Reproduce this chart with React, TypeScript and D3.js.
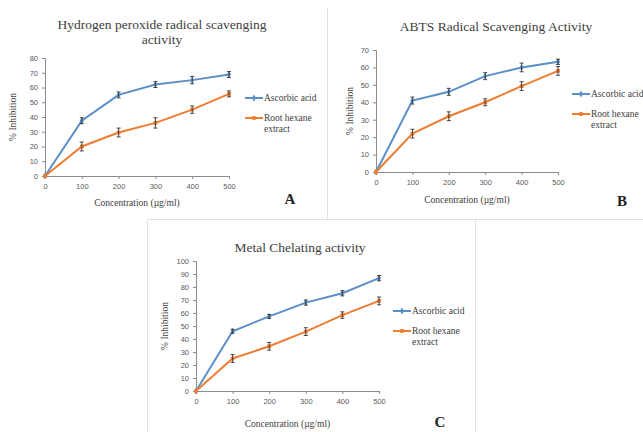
import React, { useEffect, useRef } from 'react';
import * as d3 from 'd3';

// concentration levels (µg/ml)
const concentrations = [0, 100, 200, 300, 400, 500];
const seriesNames = ['Ascorbic acid', 'Root hexane extract'];

// A - hydrogen peroxide
const h2o2Ascorbic = [0, 37.5, 55, 62, 65, 68.8];
const h2o2AscorbicErr = [0, 2, 2, 2, 2.5, 2];
const h2o2Root = [0, 20, 29.5, 36, 45, 55.7];
const h2o2RootErr = [0, 3, 3, 3.5, 2.5, 2];

// B - ABTS
const abtsAscorbic = [0, 41, 46, 55, 60, 63.2];
const abtsAscorbicErr = [0, 2, 2, 2, 2.5, 1.5];
const abtsRoot = [0, 22, 32, 40, 49.3, 58];
const abtsRootErr = [0, 2.5, 2.5, 2, 2.5, 2.5];

// C - metal chelating
const metalAscorbic = [0, 46, 57.4, 68, 75.2, 86.8];
const metalAscorbicErr = [0, 1.5, 1.5, 2, 2, 2];
const metalRoot = [0, 25, 34.4, 45.7, 58.4, 69.3];
const metalRootErr = [0, 3, 3, 3, 2.5, 3];

const BLUE = '#5b8fc7';
const ORANGE = '#ee7d31';
const SERIF = '"Liberation Serif", "Times New Roman", serif';
const SANS = '"Liberation Sans", Arial, sans-serif';

type PanelCfg = {
  title: string[];
  titleX: number;
  titleY: number;
  letter: string;
  letterX: number;
  letterY: number;
  left: number;
  bottom: number;
  width: number;
  height: number;
  yMax: number;
  series: { vals: number[]; errs: number[] }[];
  legendX: number;
  legendY: number;
  yTitleX: number;
  xTitleY: number;
};

const panels: PanelCfg[] = [
  {
    title: ['Hydrogen peroxide radical scavenging', 'activity'],
    titleX: 162, titleY: 29, letter: 'A', letterX: 290, letterY: 204,
    left: 45, bottom: 176, width: 184, height: 118, yMax: 80,
    series: [{ vals: h2o2Ascorbic, errs: h2o2AscorbicErr }, { vals: h2o2Root, errs: h2o2RootErr }],
    legendX: 245, legendY: 98, yTitleX: 16, xTitleY: 206,
  },
  {
    title: ['ABTS Radical Scavenging Activity'],
    titleX: 496, titleY: 31, letter: 'B', letterX: 622, letterY: 206,
    left: 376, bottom: 172, width: 182, height: 122, yMax: 70,
    series: [{ vals: abtsAscorbic, errs: abtsAscorbicErr }, { vals: abtsRoot, errs: abtsRootErr }],
    legendX: 572, legendY: 94, yTitleX: 353, xTitleY: 203,
  },
  {
    title: ['Metal Chelating activity'],
    titleX: 300, titleY: 252, letter: 'C', letterX: 440, letterY: 427,
    left: 196, bottom: 391, width: 183, height: 130, yMax: 100,
    series: [{ vals: metalAscorbic, errs: metalAscorbicErr }, { vals: metalRoot, errs: metalRootErr }],
    legendX: 393, legendY: 311, yTitleX: 168, xTitleY: 427,
  },
];

export default function App() {
  const ref = useRef<SVGSVGElement>(null);

  useEffect(() => {
    const svg = d3.select(ref.current);
    svg.selectAll('*').remove();

    // light panel frames
    const frames = svg.append('g').attr('stroke', '#e2e2e2').attr('fill', 'none');
    frames.append('path').attr('d', 'M327.5,8 V219.5 H643');
    frames.append('path').attr('d', 'M147.5,432 V219.5 H475.5 V432');

    panels.forEach((p) => {
      const g = svg.append('g');
      const x = d3.scaleLinear().domain([0, 500]).range([p.left, p.left + p.width]);
      const y = d3.scaleLinear().domain([0, p.yMax]).range([p.bottom, p.bottom - p.height]);

      // title
      p.title.forEach((t, i) => {
        g.append('text')
          .attr('x', p.titleX).attr('y', p.titleY + i * 15)
          .attr('text-anchor', 'middle')
          .attr('font-family', SERIF).attr('font-size', 13.5)
          .attr('fill', '#404040')
          .text(t);
      });

      // y axis
      const yAxis = g.append('g')
        .attr('transform', `translate(${p.left},0)`)
        .call(d3.axisLeft(y).tickValues(d3.range(0, p.yMax + 1, 10)).tickSize(3).tickPadding(4));
      // x axis
      const xAxis = g.append('g')
        .attr('transform', `translate(0,${p.bottom})`)
        .call(d3.axisBottom(x).tickValues(concentrations).tickSize(3).tickPadding(5));
      [yAxis, xAxis].forEach((a) => {
        a.select('.domain').attr('stroke', '#8c8c8c');
        a.selectAll('.tick line').attr('stroke', '#8c8c8c');
        a.selectAll('.tick text')
          .attr('fill', '#595959')
          .attr('font-family', SANS).attr('font-size', 7.5);
      });

      // axis titles
      g.append('text')
        .attr('x', p.left + p.width / 2).attr('y', p.xTitleY)
        .attr('text-anchor', 'middle')
        .attr('font-family', SERIF).attr('font-size', 9.5).attr('fill', '#404040')
        .text('Concentration (µg/ml)');
      g.append('text')
        .attr('transform', `translate(${p.yTitleX},${p.bottom - p.height / 2}) rotate(-90)`)
        .attr('text-anchor', 'middle')
        .attr('font-family', SERIF).attr('font-size', 9.5).attr('fill', '#404040')
        .text('% Inhibition');

      // series
      const line = d3.line<number>()
        .x((_, i) => x(concentrations[i]))
        .y((d) => y(d));
      p.series.forEach((s, si) => {
        const col = si === 0 ? BLUE : ORANGE;
        g.append('path')
          .attr('d', line(s.vals))
          .attr('fill', 'none')
          .attr('stroke', col)
          .attr('stroke-width', 2);
        // markers
        g.selectAll(null)
          .data(s.vals)
          .enter()
          .append('path')
          .attr('transform', (d, i) => `translate(${x(concentrations[i])},${y(d)})`)
          .attr('d', d3.symbol(si === 0 ? d3.symbolDiamond : d3.symbolSquare, 14)())
          .attr('fill', col);
        // error bars
        const eb = g.selectAll(null)
          .data(s.vals.map((v, i) => ({ v, e: s.errs[i], c: concentrations[i] })).filter((d) => d.e > 0))
          .enter()
          .append('g')
          .attr('stroke', '#333')
          .attr('stroke-width', 0.9);
        eb.append('line')
          .attr('x1', (d) => x(d.c)).attr('x2', (d) => x(d.c))
          .attr('y1', (d) => y(d.v - d.e)).attr('y2', (d) => y(d.v + d.e));
        eb.append('line')
          .attr('x1', (d) => x(d.c) - 2).attr('x2', (d) => x(d.c) + 2)
          .attr('y1', (d) => y(d.v + d.e)).attr('y2', (d) => y(d.v + d.e));
        eb.append('line')
          .attr('x1', (d) => x(d.c) - 2).attr('x2', (d) => x(d.c) + 2)
          .attr('y1', (d) => y(d.v - d.e)).attr('y2', (d) => y(d.v - d.e));
      });

      // legend
      const lg = g.append('g');
      [0, 1].forEach((si) => {
        const ly = p.legendY + si * 20;
        const col = si === 0 ? BLUE : ORANGE;
        lg.append('line')
          .attr('x1', p.legendX).attr('x2', p.legendX + 18)
          .attr('y1', ly).attr('y2', ly)
          .attr('stroke', col).attr('stroke-width', 2);
        lg.append('path')
          .attr('transform', `translate(${p.legendX + 9},${ly})`)
          .attr('d', d3.symbol(si === 0 ? d3.symbolDiamond : d3.symbolSquare, 14)())
          .attr('fill', col);
        const label = si === 0 ? [seriesNames[0]] : ['Root hexane', 'extract'];
        label.forEach((t, k) => {
          lg.append('text')
            .attr('x', p.legendX + 19).attr('y', ly + 3 + k * 11)
            .attr('font-family', SERIF).attr('font-size', 9.5).attr('fill', '#404040')
            .text(t);
        });
      });

      // panel letter
      g.append('text')
        .attr('x', p.letterX).attr('y', p.letterY)
        .attr('text-anchor', 'middle')
        .attr('font-family', SERIF).attr('font-size', 15).attr('font-weight', 'bold')
        .attr('fill', '#222')
        .text(p.letter);
    });
  }, []);

  return (
    <svg
      ref={ref}
      width={643}
      height={432}
      style={{ position: 'absolute', left: 0, top: 0, background: '#fff' }}
    />
  );
}
